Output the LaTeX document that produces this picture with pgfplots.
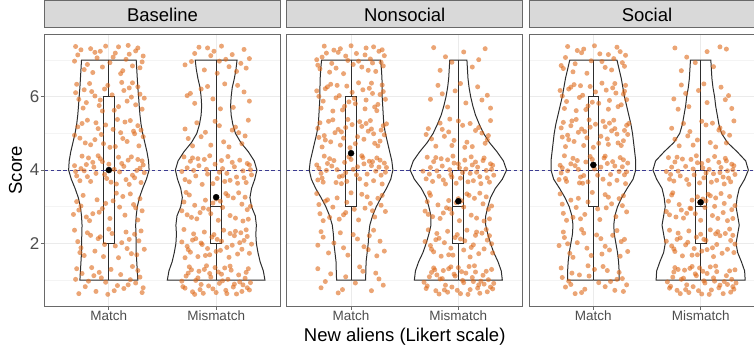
\documentclass[border=0pt]{standalone}
\usepackage{pgfplots}
\usepackage{pgfplotstable}
\pgfplotsset{compat=1.18}
\usepgfplotslibrary{statistics}
\usepackage{fontspec}
\setmainfont{Liberation Sans}

\definecolor{ptorange}{RGB}{222,105,25}
\definecolor{stripfill}{RGB}{217,217,217}
\definecolor{frame}{RGB}{105,105,105}
\definecolor{gridmaj}{RGB}{235,235,235}
\definecolor{gridmin}{RGB}{244,244,244}
\definecolor{refline}{RGB}{60,60,145}
\definecolor{ticktext}{RGB}{77,77,77}
\definecolor{outline}{RGB}{45,45,45}

% violin half-widths (y, w), closed at y=1 and y=7
\pgfplotstableread{
y w
1 0
1.00 .270
1.25 .265
1.50 .260
1.75 .255
2.00 .255
2.25 .252
2.50 .250
2.75 .255
3.00 .265
3.25 .285
3.50 .315
3.75 .350
4.00 .375
4.25 .370
4.50 .355
4.75 .335
5.00 .315
5.25 .300
5.50 .290
5.75 .283
6.00 .277
6.25 .270
6.50 .265
6.75 .260
7.00 .255
7 0
}\vBaseMatch
\pgfplotstableread{
y w
1 0
1.00 .455
1.25 .440
1.50 .410
1.75 .390
2.00 .375
2.25 .370
2.50 .375
2.75 .365
3.00 .330
3.25 .315
3.50 .330
3.75 .360
4.00 .380
4.25 .355
4.50 .300
4.75 .230
5.00 .180
5.25 .155
5.50 .140
5.75 .135
6.00 .140
6.25 .150
6.50 .170
6.75 .185
7.00 .195
7 0
}\vBaseMis
\pgfplotstableread{
y w
1 0
1.00 .135
1.25 .138
1.50 .140
1.75 .150
2.00 .160
2.25 .165
2.50 .175
2.75 .200
3.00 .235
3.25 .280
3.50 .330
3.75 .370
4.00 .390
4.25 .380
4.50 .360
4.75 .340
5.00 .320
5.25 .305
5.50 .300
5.75 .295
6.00 .290
6.25 .290
6.50 .288
6.75 .283
7.00 .275
7 0
}\vNonMatch
\pgfplotstableread{
y w
1 0
1.00 .410
1.25 .400
1.50 .370
1.75 .330
2.00 .300
2.25 .275
2.50 .255
2.75 .255
3.00 .275
3.25 .300
3.50 .345
3.75 .410
4.00 .450
4.25 .420
4.50 .360
4.75 .290
5.00 .235
5.25 .195
5.50 .160
5.75 .135
6.00 .115
6.25 .100
6.50 .090
6.75 .085
7.00 .080
7 0
}\vNonMis
\pgfplotstableread{
y w
1 0
1.00 .240
1.25 .240
1.50 .235
1.75 .225
2.00 .210
2.25 .195
2.50 .190
2.75 .200
3.00 .225
3.25 .265
3.50 .315
3.75 .370
4.00 .395
4.25 .395
4.50 .385
4.75 .375
5.00 .365
5.25 .350
5.50 .330
5.75 .310
6.00 .290
6.25 .275
6.50 .260
6.75 .240
7.00 .220
7 0
}\vSocMatch
\pgfplotstableread{
y w
1 0
1.00 .415
1.25 .410
1.50 .380
1.75 .345
2.00 .330
2.25 .345
2.50 .360
2.75 .345
3.00 .330
3.25 .340
3.50 .360
3.75 .410
4.00 .445
4.25 .420
4.50 .340
4.75 .250
5.00 .195
5.25 .170
5.50 .155
5.75 .140
6.00 .130
6.25 .115
6.50 .105
6.75 .100
7.00 .095
7 0
}\vSocMis

\pgfplotsset{
  facet/.style={
    scale only axis, width=236pt, height=271.7pt,
    xmin=0.4, xmax=2.6, ymin=0.29, ymax=7.70,
    xtick={1,2}, xticklabels={Match,Mismatch},
    ytick={2,4,6}, minor ytick={1,3,5,7},
    grid=both,
    major grid style={gridmaj, line width=0.9pt},
    minor grid style={gridmin, line width=0.5pt},
    axis line style={frame, line width=1pt},
    tick align=outside, tick pos=left,
    major tick length=3.5pt, minor tick length=0pt,
    tick style={frame, line width=0.8pt},
    xticklabel style={font=\fontsize{13.5}{14}\selectfont, text=ticktext, inner sep=1pt},
    yticklabel style={font=\fontsize{17}{18}\selectfont, text=ticktext, inner sep=1.5pt},
    title style={at={(0.5,1)}, anchor=south, fill=stripfill, draw=frame,
      line width=1pt, minimum width=236pt, minimum height=27pt, inner sep=0pt,
      font=\fontsize{18.5}{20}\selectfont},
    /pgf/number format/assume math mode=true,
    boxplot/draw direction=y,
    anchor=south west,
  },
  violin/.style={outline, line width=1pt, no marks, forget plot},
  jit/.style={only marks, mark=*, mark size=2.5pt,
    mark options={draw opacity=0, fill=ptorange, fill opacity=0.6}, forget plot},
  bx/.style={draw=outline, fill=white, line width=1pt, solid, forget plot},
  meandot/.style={only marks, mark=*, mark size=3pt, mark options={fill=black, draw=black}, forget plot},
  hline/.style={refline, line width=0.9pt, dash pattern=on 3.5pt off 2.8pt, forget plot},
}

\begin{document}
\begin{tikzpicture}
\clip (0,0) rectangle (754pt,345pt);
\path[use as bounding box] (0,0) rectangle (754pt,345pt);

%% ---------------- Baseline ----------------
\begin{axis}[facet, at={(44.5pt,38.9pt)}, title={Baseline},
  ylabel={Score},
  ylabel style={font=\fontsize{18.5}{20}\selectfont, at={(axis description cs:-0.1229,0.5)}, anchor=center}]
\addplot[violin] table[x expr=1+\thisrow{w}, y=y] {\vBaseMatch};
\addplot[violin] table[x expr=1-\thisrow{w}, y=y] {\vBaseMatch};
\addplot[violin] table[x expr=2+\thisrow{w}, y=y] {\vBaseMis};
\addplot[violin] table[x expr=2-\thisrow{w}, y=y] {\vBaseMis};
% Match
\addplot[jit] coordinates {
(0.72,0.63) (0.91,1.21) (1.18,0.87) (1.29,1.08) (0.84,1.34) (1.05,0.71) (0.69,1.02) (1.22,1.37) (0.97,0.94) (1.31,0.66) (0.78,0.82) (1.11,1.15) (0.88,0.69) (1.25,0.92) (1.02,1.29) (0.75,1.18) (1.14,0.77) (0.93,1.06) (1.27,1.26) (0.81,0.97) (1.08,0.85) (0.70,1.31) (1.20,1.01) (0.86,1.12) (1.32,0.79) (0.99,0.61)
(0.74,1.88) (1.16,2.31) (0.95,1.64) (1.28,2.07) (0.83,2.22) (1.06,1.93) (0.68,2.36) (1.21,1.72) (0.90,2.13) (1.33,1.84) (0.77,1.67) (1.12,2.02) (1.00,2.39) (0.87,1.79) (1.24,2.25) (0.71,2.05) (1.09,1.61) (0.96,1.97) (1.30,2.34) (0.80,2.29) (1.17,1.86) (0.92,2.18) (1.26,1.69) (0.73,1.75) (1.03,2.27) (1.19,2.11)
(0.79,2.72) (1.13,3.28) (0.94,2.95) (1.27,2.64) (0.70,3.14) (1.07,3.37) (0.85,2.81) (1.23,3.06) (1.01,2.68) (0.76,3.31) (1.31,2.89) (0.89,3.19) (1.15,2.77) (0.97,3.09) (0.72,2.91) (1.20,3.35) (0.82,2.62) (1.10,2.99) (1.29,3.22) (0.67,2.79) (1.04,3.16) (0.91,2.85) (1.25,2.97) (0.74,3.02)
(0.73,3.71) (1.18,4.27) (0.96,3.88) (1.29,4.05) (0.81,4.33) (1.07,3.62) (0.68,4.12) (1.24,3.79) (0.90,4.39) (1.33,3.93) (0.77,3.98) (1.12,4.18) (1.02,3.67) (0.86,4.08) (1.21,4.36) (0.70,3.84) (1.10,3.95) (0.94,4.23) (1.30,3.66) (0.79,4.15) (1.16,3.74) (0.88,3.91) (1.27,4.29) (0.75,4.38) (1.05,4.02) (0.98,3.77) (1.32,4.14) (0.83,3.69) (1.14,4.10) (0.92,4.31) (1.22,3.86) (0.69,3.96) (1.09,4.35) (0.85,4.21) (1.26,3.99) (0.74,4.04) (1.19,3.61) (1.00,4.16) (0.80,3.82) (1.31,4.25)
(0.78,4.74) (1.15,5.31) (0.93,4.97) (1.28,4.66) (0.71,5.18) (1.08,5.38) (0.87,4.83) (1.23,5.06) (1.01,4.62) (0.75,5.27) (1.32,4.91) (0.90,5.13) (1.17,4.78) (0.97,5.23) (0.68,4.95) (1.20,5.35) (0.83,4.69) (1.11,5.02) (1.27,5.21) (0.73,4.87) (1.04,5.11) (0.95,4.72) (1.24,4.99) (0.80,5.36) (1.13,4.86) (0.88,5.29) (1.30,5.09) (1.06,4.64)
(0.76,5.69) (1.19,6.24) (0.92,5.91) (1.29,6.07) (0.82,6.36) (1.05,5.63) (0.69,6.11) (1.25,5.78) (0.99,6.31) (1.33,5.96) (0.79,5.84) (1.14,6.17) (0.87,6.02) (1.22,6.38) (0.72,5.93) (1.09,5.73) (0.96,6.21) (1.31,5.66) (0.84,6.14) (1.17,5.88) (0.70,6.34) (1.03,6.05) (1.27,6.27) (0.91,5.76) (1.12,6.39) (0.77,6.19) (1.21,5.99) (0.94,5.61)
(0.74,7.28) (1.13,6.71) (0.89,7.06) (1.27,7.33) (0.80,6.88) (1.06,7.19) (0.68,6.97) (1.22,6.84) (0.97,7.38) (1.32,7.11) (0.85,6.66) (1.16,7.02) (0.92,7.24) (1.29,6.79) (0.71,7.14) (1.09,7.36) (1.01,6.93) (0.83,7.31) (1.19,7.16) (0.77,6.74) (1.25,7.25) (0.94,6.81) (1.11,6.63) (0.69,7.37) (1.04,7.08) (1.31,6.95) (0.87,7.21) (1.18,7.40)
};
% Mismatch
\addplot[jit] coordinates {
(1.69,0.82) (2.14,1.27) (1.88,0.64) (2.27,1.05) (1.75,1.36) (2.03,0.91) (2.31,0.73) (1.94,1.18) (1.81,0.99) (2.19,0.62) (2.08,1.33) (1.72,1.11) (2.25,0.87) (1.97,0.76) (2.11,1.02) (1.84,1.24) (2.30,1.31) (1.78,0.68) (2.05,1.16) (1.91,1.39) (2.22,0.95) (1.68,0.97) (2.16,0.81) (2.00,0.66) (1.86,0.88) (2.28,1.21) (1.74,1.19) (2.09,0.72) (1.95,1.08) (2.32,0.93) (1.80,0.61) (2.13,1.38) (1.89,1.29) (2.21,1.14) (1.71,0.78) (2.06,0.98) (1.99,1.34) (2.24,0.69) (1.83,1.06) (2.17,0.89) (1.77,1.28) (2.02,1.22) (1.93,0.84) (2.29,0.79) (2.10,0.63) (1.85,0.74)
(1.73,1.92) (2.18,2.33) (1.90,1.67) (2.26,2.08) (1.79,2.26) (2.04,1.81) (2.31,1.73) (1.96,2.17) (1.70,2.38) (2.12,1.62) (1.86,2.01) (2.23,2.29) (2.01,2.11) (1.76,1.76) (2.15,1.95) (1.92,1.86) (2.29,2.19) (1.83,1.64) (2.07,2.36) (1.68,2.04) (2.20,1.71) (1.98,2.24) (1.81,2.13) (2.10,1.89) (2.33,1.98) (1.89,2.31) (2.24,1.84) (1.74,1.83) (2.05,2.06) (1.94,1.69) (2.17,2.21) (1.78,2.09) (2.28,2.37) (2.00,1.78) (1.87,1.97) (2.13,2.27) (1.71,1.61) (2.22,2.02)
(1.77,2.71) (2.16,3.24) (1.93,2.93) (2.30,2.66) (1.70,3.13) (2.09,3.36) (1.85,2.84) (2.24,3.07) (2.02,2.63) (1.75,3.32) (2.32,3.01) (1.90,3.18) (2.13,2.76) (1.97,3.10) (1.68,2.89) (2.21,3.38) (1.82,2.67) (2.06,2.98) (2.27,3.26) (1.73,2.78) (2.00,3.21) (1.88,2.96) (2.18,2.69) (1.80,3.04) (2.11,3.30) (1.95,2.81) (2.29,2.92) (1.72,3.39) (2.04,3.15) (2.25,2.61)
(1.71,3.74) (2.15,4.21) (1.92,3.89) (2.28,3.66) (1.78,4.33) (2.06,4.04) (2.31,4.14) (1.97,3.63) (1.84,4.12) (2.19,3.81) (1.68,3.96) (2.11,4.37) (2.01,3.77) (1.76,4.24) (2.25,3.98) (1.89,4.29) (2.08,3.69) (2.33,3.87) (1.81,3.84) (2.17,4.09) (1.94,4.39) (2.22,4.27) (1.73,4.06) (2.03,3.94) (1.87,3.61) (2.29,4.18) (2.13,3.72) (1.79,3.99) (1.99,4.16) (2.26,3.79) (1.70,4.36) (2.10,3.91) (1.91,4.02) (2.20,3.64) (1.83,4.31) (2.05,4.26) (2.32,4.01) (1.75,3.68)
(1.74,4.86) (2.18,5.17) (1.95,4.68) (2.27,4.93) (1.82,5.29) (2.07,4.77) (2.30,5.36) (1.90,5.03) (2.12,4.63) (1.71,5.12) (2.24,4.72) (1.99,5.33) (1.86,4.91) (2.15,5.09) (2.03,5.21) (1.78,4.66) (2.21,5.02)
(1.73,6.03) (2.16,5.71) (1.92,6.28) (2.26,6.13) (1.80,5.82) (2.08,6.35) (2.31,5.88) (1.97,5.94) (1.86,6.21) (2.20,6.31) (2.04,5.67) (1.76,6.09)
(1.84,7.35) (2.12,6.82) (1.95,7.12) (2.26,7.29) (1.77,6.96) (2.05,7.38) (2.19,6.69) (1.89,6.73) (2.31,7.04) (1.98,7.24) (2.09,7.02) (1.80,7.18) (2.23,6.91) (2.01,6.64) (1.92,7.33) (2.15,7.15) (1.71,6.87) (2.28,6.78) (2.03,6.97)
};
\addplot[bx, boxplot prepared={draw position=1, lower whisker=1, lower quartile=2, median=4, upper quartile=6, upper whisker=7, box extend=0.1, whisker extend=0}] coordinates {};
\addplot[bx, boxplot prepared={draw position=2, lower whisker=1, lower quartile=2, median=3, upper quartile=4, upper whisker=7, box extend=0.1, whisker extend=0}] coordinates {};
\addplot[hline] coordinates {(0.4,4) (2.6,4)};
\addplot[meandot] coordinates {(1,4.00) (2,3.26)};
\end{axis}

%% ---------------- Nonsocial ----------------
\begin{axis}[facet, at={(286.7pt,38.9pt)}, title={Nonsocial},
  yticklabels={}, ytick style={draw=none},
  xlabel={New aliens (Likert scale)},
  xlabel style={font=\fontsize{18.5}{20}\selectfont, at={(axis description cs:0.5,-0.131)}, anchor=base}]
\addplot[violin] table[x expr=1+\thisrow{w}, y=y] {\vNonMatch};
\addplot[violin] table[x expr=1-\thisrow{w}, y=y] {\vNonMatch};
\addplot[violin] table[x expr=2+\thisrow{w}, y=y] {\vNonMis};
\addplot[violin] table[x expr=2-\thisrow{w}, y=y] {\vNonMis};
% Match
\addplot[jit] coordinates {
(0.72,0.79) (1.11,1.24) (0.88,0.65) (1.26,1.03) (0.81,1.17) (1.04,0.92) (0.69,1.31) (1.19,0.71) (0.95,1.09) (1.30,0.86) (0.76,0.96) (1.08,1.36) (0.92,0.74) (1.23,1.19)
(0.74,2.17) (1.16,1.83) (0.90,2.29) (1.27,2.06) (0.79,1.74) (1.06,2.12) (0.69,1.95) (1.21,2.36) (0.97,1.68) (1.31,1.79) (0.84,2.01) (1.12,1.91) (0.72,2.32) (1.02,2.24) (1.24,1.66) (0.93,1.88) (1.17,2.21)
(0.71,2.81) (1.15,3.27) (0.89,2.66) (1.28,3.04) (0.78,3.19) (1.03,2.93) (0.68,3.36) (1.22,2.72) (0.96,3.12) (1.32,2.87) (0.83,2.99) (1.10,3.34) (0.74,2.62) (1.18,3.09) (0.93,2.78) (1.25,3.23) (1.00,3.38) (0.80,2.71) (1.13,2.96) (0.70,3.06) (1.29,3.31) (0.87,3.24) (1.07,2.64) (1.20,2.89) (0.95,2.84) (0.76,3.15)
(0.73,3.78) (1.17,4.24) (0.91,3.63) (1.26,4.08) (0.80,4.31) (1.05,3.87) (0.68,4.14) (1.21,3.71) (0.98,4.36) (1.32,3.94) (0.77,3.99) (1.12,4.17) (0.86,3.66) (1.24,4.33) (0.70,4.05) (1.08,3.76) (0.94,4.21) (1.29,3.62) (0.82,4.11) (1.15,3.89) (0.75,4.38) (1.02,4.02) (1.27,4.27) (0.89,3.82) (1.10,4.39) (0.72,3.91) (1.19,4.12) (0.96,3.69) (1.31,4.19) (0.84,4.26) (1.06,4.09) (0.69,3.73) (1.23,3.97) (0.92,3.84) (1.14,3.61) (0.78,4.18) (1.00,4.29) (1.28,3.86) (0.87,4.01) (1.11,4.34) (0.74,3.67) (1.20,4.23) (0.95,3.93) (1.33,4.07)
(0.76,4.82) (1.14,5.27) (0.90,4.68) (1.28,5.09) (0.79,5.33) (1.06,4.91) (0.69,5.14) (1.22,4.73) (0.97,5.38) (1.31,4.96) (0.85,5.02) (1.10,5.19) (0.73,4.63) (1.18,5.35) (0.93,4.87) (1.25,4.66) (1.01,5.24) (0.81,4.77) (1.16,5.06) (0.71,5.29) (1.30,5.21) (0.88,5.11) (1.04,4.72) (1.21,4.99) (0.95,5.16) (0.75,4.94) (1.12,4.84) (0.83,5.37) (1.27,4.79) (0.99,4.61) (1.08,5.32) (0.70,4.89) (1.19,5.12) (0.91,5.04) (1.33,5.26)
(0.74,5.88) (1.17,6.23) (0.92,5.64) (1.27,6.06) (0.81,6.34) (1.04,5.81) (0.68,6.16) (1.22,5.72) (0.96,6.29) (1.32,5.93) (0.86,5.97) (1.11,6.19) (0.72,5.69) (1.19,6.37) (0.89,6.03) (1.25,5.79) (1.01,6.12) (0.78,6.27) (1.14,5.91) (0.70,6.01) (1.29,6.32) (0.94,5.74) (1.07,6.38) (0.83,5.61) (1.20,6.09) (0.98,5.86) (0.76,6.22) (1.13,5.67) (1.30,6.14) (0.87,6.31) (1.03,5.95) (1.24,5.62)
(0.73,7.08) (1.16,6.72) (0.90,7.31) (1.28,6.94) (0.80,6.67) (1.05,7.18) (0.69,6.86) (1.21,7.36) (0.97,6.99) (1.31,7.12) (0.84,7.27) (1.10,6.81) (0.75,7.38) (1.18,7.03) (0.93,6.63) (1.26,7.24) (1.00,7.39) (0.82,6.91) (1.13,7.14) (0.71,6.76) (1.30,6.84) (0.88,7.21) (1.07,6.97) (1.23,6.69) (0.95,7.11) (0.77,7.19) (1.14,7.33) (0.86,6.78) (1.29,7.28) (1.02,6.88) (0.68,7.01) (1.20,6.92)
};
% Mismatch
\addplot[jit] coordinates {
(1.71,0.84) (2.16,1.22) (1.90,0.67) (2.28,1.01) (1.77,1.33) (2.05,0.93) (2.32,0.76) (1.96,1.16) (1.83,1.03) (2.20,0.64) (2.10,1.37) (1.73,1.09) (2.24,0.89) (1.99,0.72) (2.13,1.07) (1.86,1.26) (2.31,1.29) (1.79,0.71) (2.07,1.19) (1.93,1.36) (2.21,0.97) (1.68,0.94) (2.18,0.78) (2.02,0.63) (1.88,0.86) (2.26,1.24) (1.75,1.21) (2.11,0.74) (1.97,1.11) (2.33,0.91) (1.82,0.62) (2.15,1.39) (1.91,1.31) (2.23,1.13) (1.70,0.77) (2.04,0.99) (2.00,1.34) (2.27,0.68) (1.85,1.04) (2.19,0.87) (1.78,1.28) (2.03,1.23) (1.94,0.81) (2.30,0.81) (2.09,0.61) (1.87,0.73) (2.14,0.96) (1.80,1.14)
(1.74,1.94) (2.17,2.31) (1.91,1.69) (2.27,2.09) (1.80,2.27) (2.05,1.82) (2.32,1.74) (1.97,2.16) (1.72,2.37) (2.11,1.63) (1.87,2.02) (2.22,2.28) (2.02,2.12) (1.77,1.77) (2.14,1.96) (1.93,1.87) (2.29,2.21) (1.84,1.65) (2.08,2.36) (1.69,2.05) (2.19,1.72) (1.99,2.24) (1.82,2.14) (2.12,1.89) (2.31,1.99) (1.90,2.33) (2.24,1.85) (1.75,1.84) (2.06,2.07) (1.95,1.68) (2.16,2.22) (1.79,2.10) (2.26,2.38)
(1.76,2.73) (2.15,3.23) (1.92,2.94) (2.29,2.67) (1.71,3.14) (2.08,3.35) (1.86,2.83) (2.23,3.08) (2.01,2.62) (1.74,3.31) (2.31,3.02) (1.91,3.17) (2.12,2.77) (1.98,3.11) (1.69,2.88) (2.20,3.37) (1.83,2.68) (2.05,2.99) (2.26,3.27) (1.72,2.79) (2.00,3.22) (1.89,2.97) (2.17,2.69) (1.81,3.05) (2.10,3.31) (1.94,2.82) (2.28,2.93) (1.73,3.38) (2.03,3.16) (2.24,2.61)
(1.70,3.76) (2.16,4.22) (1.93,3.88) (2.29,3.67) (1.79,4.34) (2.07,4.03) (2.32,4.13) (1.98,3.64) (1.85,4.11) (2.20,3.82) (1.67,3.97) (2.12,4.36) (2.02,3.78) (1.77,4.23) (2.26,3.99) (1.90,4.28) (2.09,3.68) (2.33,3.86) (1.82,3.83) (2.18,4.08) (1.95,4.38) (2.23,4.26) (1.74,4.07) (2.04,3.93) (1.88,3.62) (2.30,4.17) (2.14,3.71) (1.80,3.98) (2.00,4.17) (2.27,3.79) (1.71,4.35) (2.11,3.91) (1.92,4.01) (2.21,3.63) (1.84,4.31) (2.06,4.27) (2.31,4.02) (1.76,3.69) (1.96,4.19) (2.17,3.94) (1.86,3.73) (2.24,4.33) (1.73,3.89) (2.01,4.06) (2.13,4.14) (1.94,3.81)
(1.75,4.85) (2.19,5.16) (1.94,4.67) (2.28,4.94) (1.83,5.28) (2.08,4.76) (2.30,5.35) (1.91,5.04) (2.13,4.64) (1.72,5.13) (2.25,4.73) (2.00,5.34) (1.87,4.92) (2.16,5.08) (2.04,5.22) (1.79,4.65) (2.22,5.01) (1.96,4.81) (2.11,5.27) (1.85,5.11) (2.27,4.83) (1.70,4.97) (2.06,4.62) (1.92,5.39)
(1.74,5.93) (2.18,6.27) (1.90,5.72) (2.27,6.04) (1.81,6.31) (2.07,5.83) (2.30,5.69) (1.97,6.16) (1.85,6.08) (2.22,5.91) (2.02,6.36)
(1.77,7.34) (2.13,6.81) (1.88,7.09) (2.25,7.31) (1.83,6.72) (2.05,7.22) (1.94,6.94) (2.19,7.01)
};
\addplot[bx, boxplot prepared={draw position=1, lower whisker=1, lower quartile=3, median=4, upper quartile=6, upper whisker=7, box extend=0.1, whisker extend=0}] coordinates {};
\addplot[bx, boxplot prepared={draw position=2, lower whisker=1, lower quartile=2, median=3, upper quartile=4, upper whisker=7, box extend=0.1, whisker extend=0}] coordinates {};
\addplot[hline] coordinates {(0.4,4) (2.6,4)};
\addplot[meandot] coordinates {(1,4.46) (2,3.15)};
\end{axis}

%% ---------------- Social ----------------
\begin{axis}[facet, at={(529pt,38.9pt)}, title={Social},
  yticklabels={}, ytick style={draw=none}]
\addplot[violin] table[x expr=1+\thisrow{w}, y=y] {\vSocMatch};
\addplot[violin] table[x expr=1-\thisrow{w}, y=y] {\vSocMatch};
\addplot[violin] table[x expr=2+\thisrow{w}, y=y] {\vSocMis};
\addplot[violin] table[x expr=2-\thisrow{w}, y=y] {\vSocMis};
% Match
\addplot[jit] coordinates {
(0.74,0.81) (1.13,1.26) (0.89,0.66) (1.27,1.04) (0.80,1.19) (1.05,0.93) (0.70,1.33) (1.20,0.72) (0.96,1.11) (1.31,0.87) (0.77,0.97) (1.09,1.37) (0.92,0.75) (1.24,1.21) (0.83,0.63) (1.16,0.96) (0.71,1.07) (1.01,1.29) (1.28,0.69) (0.87,1.14) (1.11,0.82) (0.95,1.39) (1.22,1.02) (0.79,0.88)
(0.73,2.16) (1.15,1.82) (0.91,2.28) (1.26,2.05) (0.78,1.73) (1.07,2.13) (0.68,1.94) (1.22,2.35) (0.98,1.67) (1.32,1.78) (0.85,2.02) (1.11,1.92) (0.72,2.31) (1.03,2.23) (1.25,1.65) (0.94,1.87) (1.18,2.22) (0.81,1.62) (1.29,2.11) (0.76,1.99) (1.08,1.71) (0.89,2.38)
(0.72,2.82) (1.14,3.26) (0.88,2.67) (1.27,3.03) (0.79,3.18) (1.04,2.94) (0.69,3.35) (1.21,2.73) (0.95,3.13) (1.31,2.86) (0.84,2.98) (1.11,3.33) (0.75,2.63) (1.17,3.08) (0.92,2.79) (1.24,3.22) (0.99,3.39) (0.81,2.71) (1.12,2.97) (0.71,3.07) (1.28,3.30) (0.86,3.23) (1.06,2.65)
(0.74,3.77) (1.18,4.23) (0.90,3.64) (1.27,4.09) (0.81,4.32) (1.04,3.86) (0.69,4.13) (1.22,3.72) (0.97,4.37) (1.31,3.95) (0.76,3.98) (1.13,4.18) (0.87,3.65) (1.25,4.34) (0.71,4.06) (1.09,3.75) (0.93,4.22) (1.30,3.63) (0.83,4.12) (1.16,3.88) (0.73,4.39) (1.01,4.03) (1.28,4.28) (0.88,3.81) (1.11,4.38) (0.70,3.92) (1.20,4.11) (0.95,3.68) (1.32,4.19) (0.85,4.26) (1.07,4.08) (0.68,3.74) (1.24,3.96) (0.91,3.85) (1.15,3.62) (0.79,4.17) (0.99,4.29) (1.29,3.87) (0.86,4.02) (1.10,4.33) (0.75,3.69)
(0.77,4.83) (1.15,5.28) (0.91,4.67) (1.29,5.08) (0.80,5.34) (1.07,4.92) (0.70,5.15) (1.23,4.74) (0.96,5.37) (1.32,4.97) (0.86,5.03) (1.11,5.18) (0.74,4.64) (1.19,5.36) (0.94,4.88) (1.26,4.67) (1.02,5.25) (0.82,4.78) (1.17,5.07) (0.72,5.30) (1.31,5.22) (0.89,5.12) (1.05,4.73) (1.22,4.98) (0.97,5.17) (0.76,4.95) (1.13,4.85) (0.84,5.38) (1.28,4.80) (1.00,4.62) (1.09,5.33) (0.71,4.90) (1.20,5.13) (0.92,5.05) (1.33,5.27) (0.79,5.21) (1.14,4.70)
(0.75,5.87) (1.18,6.24) (0.93,5.65) (1.28,6.07) (0.82,6.33) (1.05,5.82) (0.69,6.17) (1.23,5.73) (0.97,6.28) (1.31,5.92) (0.87,5.98) (1.12,6.18) (0.73,5.68) (1.20,6.36) (0.90,6.04) (1.26,5.78) (1.02,6.13) (0.79,6.26) (1.15,5.90) (0.71,6.02) (1.30,6.31) (0.95,5.75) (1.08,6.37) (0.84,5.62) (1.21,6.10) (0.99,5.85) (0.77,6.21) (1.14,5.66) (1.29,6.15) (0.88,6.30)
(0.74,7.07) (1.17,6.73) (0.91,7.30) (1.27,6.93) (0.81,6.68) (1.06,7.17) (0.70,6.85) (1.22,7.35) (0.98,6.98) (1.30,7.13) (0.85,7.26) (1.11,6.80) (0.76,7.37) (1.19,7.04) (0.94,6.64) (1.25,7.23) (1.01,7.39) (0.83,6.90) (1.14,7.15) (0.72,6.77) (1.29,6.83) (0.89,7.20) (1.08,6.96)
};
% Mismatch
\addplot[jit] coordinates {
(1.72,0.83) (2.15,1.23) (1.89,0.66) (2.29,1.02) (1.76,1.34) (2.04,0.92) (2.31,0.75) (1.95,1.17) (1.82,1.02) (2.21,0.63) (2.09,1.36) (1.74,1.08) (2.25,0.88) (1.98,0.71) (2.12,1.06) (1.85,1.27) (2.32,1.28) (1.78,0.72) (2.06,1.18) (1.92,1.37) (2.22,0.96) (1.69,0.95) (2.17,0.79) (2.01,0.62) (1.87,0.87) (2.27,1.25) (1.75,1.22) (2.10,0.73) (1.96,1.12) (2.33,0.92) (1.81,0.63) (2.14,1.38) (1.90,1.32) (2.24,1.12) (1.71,0.78) (2.03,0.98) (1.99,1.33) (2.28,0.67) (1.84,1.05) (2.18,0.86) (1.79,1.29) (2.02,1.24) (1.93,0.82) (2.30,0.82) (2.08,0.61) (1.86,0.74) (2.13,0.97)
(1.73,1.93) (2.16,2.32) (1.92,1.68) (2.28,2.08) (1.79,2.28) (2.06,1.83) (2.31,1.75) (1.96,2.17) (1.71,2.36) (2.12,1.64) (1.88,2.03) (2.23,2.27) (2.03,2.11) (1.76,1.78) (2.15,1.97) (1.94,1.86) (2.30,2.22) (1.83,1.66) (2.09,2.37) (1.68,2.06) (2.20,1.73) (2.00,2.25) (1.81,2.15) (2.11,1.88) (2.32,1.98) (1.89,2.34) (2.25,1.84) (1.75,1.85) (2.05,2.08) (1.97,1.69) (2.18,2.21) (1.78,2.11) (2.27,2.39) (2.01,1.79) (1.86,1.96) (2.14,2.26)
(1.77,2.72) (2.14,3.24) (1.91,2.95) (2.30,2.68) (1.70,3.15) (2.07,3.34) (1.87,2.82) (2.22,3.09) (2.00,2.63) (1.73,3.32) (2.32,3.03) (1.92,3.18) (2.11,2.76) (1.99,3.12) (1.68,2.87) (2.19,3.36) (1.84,2.69) (2.04,2.98) (2.27,3.28) (1.71,2.78) (2.02,3.21) (1.90,2.96) (2.16,2.68) (1.80,3.06) (2.09,3.30) (1.95,2.81) (2.29,2.92) (1.74,3.38) (2.05,3.16) (2.25,2.62) (1.82,2.91) (2.13,3.01) (1.97,3.27) (2.21,2.84)
(1.71,3.75) (2.17,4.21) (1.94,3.87) (2.28,3.68) (1.78,4.35) (2.08,4.02) (2.31,4.12) (1.99,3.65) (1.86,4.10) (2.21,3.81) (1.68,3.96) (2.13,4.37) (2.03,3.79) (1.76,4.22) (2.25,3.98) (1.91,4.29) (2.10,3.67) (2.32,3.88) (1.81,3.84) (2.19,4.07) (1.96,4.39) (2.24,4.25) (1.73,4.08) (2.05,3.92) (1.89,3.61) (2.29,4.16) (2.15,3.72) (1.79,3.97) (2.01,4.18) (2.26,3.78) (1.70,4.34) (2.12,3.90) (1.93,4.03) (2.22,3.62) (1.83,4.30) (2.07,4.26) (2.30,4.01) (1.75,3.70) (1.97,4.20) (2.18,3.93) (1.87,3.74) (2.23,4.32) (1.72,3.88) (2.02,4.06)
(1.76,4.84) (2.18,5.15) (1.93,4.68) (2.27,4.95) (1.84,5.27) (2.09,4.75) (2.31,5.34) (1.90,5.05) (2.14,4.63) (1.73,5.14) (2.24,4.74) (2.01,5.33) (1.88,4.93) (2.17,5.09) (2.05,5.23) (1.80,4.66) (2.21,5.02) (1.97,4.82) (2.11,5.28)
(1.75,5.94) (2.19,6.26) (1.89,5.73) (2.26,6.03) (1.82,6.32) (2.06,5.84) (2.29,5.68) (1.98,6.17) (1.86,6.09) (2.23,5.92) (2.03,6.35) (1.79,5.66)
(1.76,7.33) (2.12,6.82) (1.87,7.08) (2.24,7.30) (1.82,6.71) (2.06,7.23) (1.95,6.93) (2.18,7.36)
};
\addplot[bx, boxplot prepared={draw position=1, lower whisker=1, lower quartile=3, median=4, upper quartile=6, upper whisker=7, box extend=0.1, whisker extend=0}] coordinates {};
\addplot[bx, boxplot prepared={draw position=2, lower whisker=1, lower quartile=2, median=3, upper quartile=4, upper whisker=7, box extend=0.1, whisker extend=0}] coordinates {};
\addplot[hline] coordinates {(0.4,4) (2.6,4)};
\addplot[meandot] coordinates {(1,4.14) (2,3.12)};
\end{axis}
\end{tikzpicture}
\end{document}
